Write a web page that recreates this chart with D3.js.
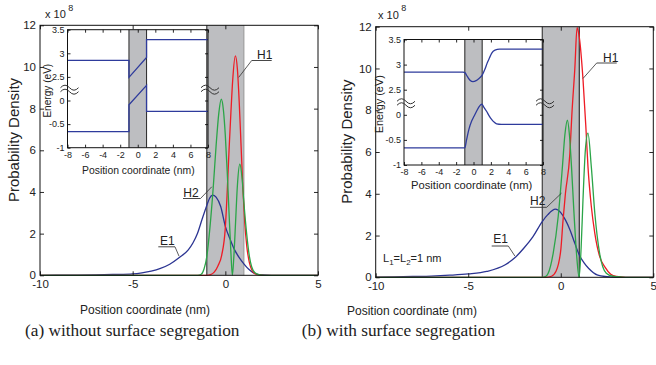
<!DOCTYPE html>
<html><head><meta charset="utf-8">
<script src="https://cdn.jsdelivr.net/npm/d3@7"></script>
<style>
body{margin:0;background:#fff}
svg{display:block}
text{font-family:"Liberation Sans",Arial,Helvetica,sans-serif;fill:#222}
</style>
</head><body>
<svg id="c" width="656" height="365"></svg>
<script>
// ---------------- DATA ----------------
const mainXDomain = [-10, 5];
const mainYDomain = [0, 12];
const mainXTicks = [-10, -5, 0, 5];
const mainYTicks = [0, 2, 4, 6, 8, 10, 12];
const wellRange = [-1, 1];           // shaded barrier region (nm)
const insetXDomain = [-8, 8];
const insetXTicks = [-8, -6, -4, -2, 0, 2, 4, 6, 8];
const insetLowTicks = [-1, -0.5, 0];
const insetHighTicks = [2.5, 3, 3.5];

// Panel (a): without surface segregation — probability density (x 1e8)
const E1_a = [[-10,0],[-8,0.01],[-7,0.02],[-6,0.04],[-5,0.07],[-4.5,0.12],[-4,0.2],[-3.5,0.33],[-3,0.53],[-2.5,0.84],[-2,1.22],[-1.75,1.55],[-1.5,2.02],[-1.25,2.7],[-1,3.35],[-0.85,3.7],[-0.68,3.85],[-0.5,3.75],[-0.25,3.3],[0,2.35],[0.25,1.75],[0.5,1.22],[0.75,0.85],[1,0.55],[1.25,0.3],[1.5,0.13],[1.75,0.05],[2,0.02],[2.5,0],[5,0]];
const H1_a = [[-10,0],[-1,0],[-0.8,0.03],[-0.6,0.15],[-0.4,0.45],[-0.2,0.95],[0,2.3],[0.1,4.0],[0.2,6.0],[0.3,7.8],[0.4,9.4],[0.54,10.53],[0.65,9.9],[0.75,8.3],[0.85,6.2],[0.95,4.1],[1.05,2.5],[1.15,1.45],[1.3,0.6],[1.45,0.22],[1.6,0.08],[1.8,0.02],[2.1,0],[5,0]];
const H2_a = [[-10,0],[-1.5,0],[-1.3,0.05],[-1.15,0.3],[-1,0.9],[-0.83,2.3],[-0.65,4.25],[-0.5,6.2],[-0.35,7.8],[-0.22,8.45],[-0.1,7.9],[0,6.7],[0.1,5.0],[0.2,3.0],[0.3,1.1],[0.38,0],[0.46,0.9],[0.55,2.5],[0.65,4.3],[0.78,5.33],[0.9,4.7],[1.0,3.5],[1.15,2.0],[1.3,0.9],[1.42,0.41],[1.6,0.12],[1.8,0.03],[2.1,0],[5,0]];
// Panel (b): with surface segregation
const E1_b = [[-10,0.01],[-9,0.02],[-8,0.04],[-7,0.06],[-6,0.1],[-5,0.16],[-4,0.28],[-3,0.6],[-2.5,0.92],[-2,1.39],[-1.5,1.95],[-1,2.67],[-0.7,3.0],[-0.29,3.26],[0,3.1],[0.25,2.75],[0.5,2.27],[0.75,1.65],[1,1.07],[1.25,0.7],[1.5,0.43],[2,0.1],[2.5,0.03],[3,0],[5,0]];
const H1_b = [[-10,0],[-0.8,0],[-0.5,0.05],[-0.25,0.3],[0,1.3],[0.12,2.7],[0.25,4.0],[0.49,5.9],[0.6,7.8],[0.76,10.0],[0.88,11.95],[1.0,11.5],[1.2,9.5],[1.35,7.3],[1.47,5.3],[1.65,3.4],[1.84,2.1],[2.1,1.0],[2.38,0.5],[2.7,0.15],[3,0.04],[3.5,0],[5,0]];
const H2_b = [[-10,0],[-1,0],[-0.8,0.05],[-0.68,0.19],[-0.41,1.15],[-0.14,2.9],[0.09,5.3],[0.22,6.8],[0.36,7.52],[0.47,6.8],[0.58,5.3],[0.7,3.3],[0.85,1.15],[0.99,0],[1.1,1.4],[1.2,3.7],[1.33,6.1],[1.47,6.9],[1.65,5.3],[1.84,3.07],[2.1,1.15],[2.46,0.19],[2.8,0.05],[3.3,0.01],[3.6,0],[5,0]];

// Insets: band edges (eV) vs position (nm)
const CB_a = [[-8,2.85],[-1,2.85],[-1,2.49],[1,2.91],[1,3.29],[8,3.29]];
const VB_a = [[-8,-0.66],[-1,-0.66],[-1,-0.09],[1,0.32],[1,-0.23],[8,-0.23]];
const CB_b = [[-8,2.85],[-1.2,2.85],[-1,2.84],[-0.7,2.76],[-0.4,2.69],[-0.06,2.66],[0.3,2.68],[0.6,2.72],[1,2.79],[1.3,2.9],[1.6,3.04],[1.86,3.14],[2.1,3.23],[2.47,3.29],[3,3.31],[8,3.31]];
const VB_b = [[-8,-0.66],[-1,-0.66],[-0.8,-0.5],[-0.53,-0.29],[-0.2,-0.12],[0.06,-0.03],[0.35,0.07],[0.63,0.16],[0.95,0.21],[1.2,0.15],[1.5,0.07],[1.8,-0.02],[2.08,-0.09],[2.4,-0.15],[2.66,-0.18],[3.2,-0.19],[8,-0.19]];

const seriesNames = ["E1", "H1", "H2"];
const captions = ["(a) without surface segregation", "(b) with surface segregation"];
const xTitle = "Position coordinate (nm)";
const yTitle = "Probability Density";
const insetYTitle = "Energy (eV)";

// ---------------- STYLE / LAYOUT ----------------
const COL = {E1:"#2b3492", H1:"#ee1c25", H2:"#2ba548", band:"#2e3b9c", gray:"#bdbec1"};
const svg = d3.select("#c");
const fmt = d => String(d);

const panels = [
  {
    data:{E1:E1_a, H1:H1_a, H2:H2_a}, CB:CB_a, VB:VB_a, smoothBands:false,
    main:{l:40, r:318, t:25.3, b:275.3}, xPad:5,
    inset:{l:67.5, r:208, t:29.7, b:147.7}, insetFont:10.4, insetTitleY:174, insetTitleX:138.3, eTitleX:50.5,
    wellRightCol:"#9a9a9a",
    yTitleX:19, yTitleY:140, xTitleX:145, xTitleY:313.5,
    exp:{x:45, y:18.3},
    caption:{x:25, y:336},
    labels:[
      {name:"H1", tx:257, ty:58.5, ul:[251.7,271.7], uy:60.5, side:"left", to:[0.72,9.5]},
      {name:"H2", tx:183.3, ty:196.7, ul:[183,200.5], uy:198.5, side:"right", to:[-0.73,4.25]},
      {name:"E1", tx:160, ty:245, ul:[158.3,175], uy:246.8, side:"right", to:[-2.5,0.92]}
    ]
  },
  {
    data:{E1:E1_b, H1:H1_b, H2:H2_b}, CB:CB_b, VB:VB_b, smoothBands:true,
    main:{l:375.7, r:653.3, t:26.7, b:277.3}, xPad:4.5,
    inset:{l:404, r:543, t:39.5, b:165}, insetFont:11.2, insetTitleY:189, insetTitleX:471.7, eTitleX:383,
    wellRightCol:"#222",
    yTitleX:352.4, yTitleY:141.7, xTitleX:412, xTitleY:315,
    exp:{x:378, y:18.5},
    caption:{x:301.7, y:336},
    note:{x:383, y:261.5},
    labels:[
      {name:"H1", tx:603, ty:61.5, ul:[596.7,616.7], uy:63, side:"left", to:[1.2,9.52]},
      {name:"H2", tx:530, ty:205, ul:[530,546.7], uy:207.3, side:"right", to:[0.04,4.03]},
      {name:"E1", tx:493.3, ty:243.3, ul:[491.7,508.3], uy:246, side:"right", to:[-2.48,1.02]}
    ]
  }
];

function styleAxis(sel, size) {
  sel.select(".domain").remove();
  sel.selectAll(".tick line").attr("stroke", "#111").attr("stroke-width", 0.9);
  sel.selectAll(".tick text").style("font-size", size + "px").attr("fill", "#222");
}

function tilde(g, cx, cy) {
  [-2, 2].forEach(off => {
    const p = d3.path();
    const x0 = cx - 9, y0 = cy + off;
    p.moveTo(x0, y0);
    p.quadraticCurveTo(x0 + 4.5, y0 - 5, x0 + 9, y0);
    p.quadraticCurveTo(x0 + 13.5, y0 + 5, x0 + 18, y0);
    g.append("path").attr("d", p.toString()).attr("fill", "none").attr("stroke", "#333").attr("stroke-width", 1);
  });
}

panels.forEach(P => {
  const M = P.main;
  const g = svg.append("g");
  const x = d3.scaleLinear().domain(mainXDomain).range([M.l, M.r]);
  const y = d3.scaleLinear().domain(mainYDomain).range([M.b, M.t]);

  // shaded barrier
  g.append("rect").attr("x", x(wellRange[0])).attr("y", M.t)
    .attr("width", x(wellRange[1]) - x(wellRange[0])).attr("height", M.b - M.t)
    .attr("fill", COL.gray);
  g.append("line").attr("x1", x(wellRange[0])).attr("x2", x(wellRange[0])).attr("y1", M.t).attr("y2", M.b)
    .attr("stroke", "#333").attr("stroke-width", 1.1);
  g.append("line").attr("x1", x(wellRange[1])).attr("x2", x(wellRange[1])).attr("y1", M.t).attr("y2", M.b)
    .attr("stroke", P.wellRightCol).attr("stroke-width", 1.1);

  // curves
  const line = d3.line().x(d => x(d[0])).y(d => y(d[1])).curve(d3.curveMonotoneX);
  ["E1", "H1", "H2"].forEach(k => {
    g.append("path").datum(P.data[k]).attr("d", line)
      .attr("fill", "none").attr("stroke", COL[k]).attr("stroke-width", 1.3);
  });

  // axes (inward ticks on all sides)
  const ax = [
    g.append("g").attr("transform", `translate(${M.l},0)`).call(d3.axisLeft(y).tickValues(mainYTicks).tickSize(-4).tickPadding(4).tickFormat(fmt)),
    g.append("g").attr("transform", `translate(${M.r},0)`).call(d3.axisRight(y).tickValues(mainYTicks).tickSize(-4).tickFormat("")),
    g.append("g").attr("transform", `translate(0,${M.b})`).call(d3.axisBottom(x).tickValues(mainXTicks).tickSize(-4).tickPadding(P.xPad).tickFormat(fmt)),
    g.append("g").attr("transform", `translate(0,${M.t})`).call(d3.axisTop(x).tickValues(mainXTicks).tickSize(-4).tickFormat(""))
  ];
  ax.forEach(a => styleAxis(a, 11.5));
  g.append("rect").attr("x", M.l).attr("y", M.t).attr("width", M.r - M.l).attr("height", M.b - M.t)
    .attr("fill", "none").attr("stroke", "#111").attr("stroke-width", 1);

  // titles
  g.append("text").attr("transform", `translate(${P.yTitleX},${P.yTitleY}) rotate(-90)`)
    .attr("text-anchor", "middle").style("font-size", "15px").attr("fill", "#333").text(yTitle);
  g.append("text").attr("x", P.xTitleX).attr("y", P.xTitleY).attr("text-anchor", "middle")
    .style("font-size", "12px").attr("fill", "#333").text(xTitle);
  const ex = g.append("text").attr("x", P.exp.x).attr("y", P.exp.y).style("font-size", "11px").attr("fill", "#222");
  ex.append("tspan").text("x 10");
  ex.append("tspan").attr("dx", 2.5).attr("dy", -7.5).style("font-size", "9px").text("8");

  // annotations
  P.labels.forEach(L => {
    g.append("text").attr("x", L.tx).attr("y", L.ty).style("font-size", "12px").attr("fill", "#333").text(L.name);
    g.append("line").attr("x1", L.ul[0]).attr("x2", L.ul[1]).attr("y1", L.uy).attr("y2", L.uy)
      .attr("stroke", "#333").attr("stroke-width", 0.9);
    const sx = L.side === "left" ? L.ul[0] : L.ul[1];
    g.append("line").attr("x1", sx).attr("y1", L.uy).attr("x2", x(L.to[0])).attr("y2", y(L.to[1]))
      .attr("stroke", "#333").attr("stroke-width", 0.8);
  });

  if (P.note) {
    const t = g.append("text").attr("x", P.note.x).attr("y", P.note.y).style("font-size", "11px").attr("fill", "#222");
    t.append("tspan").text("L");
    t.append("tspan").attr("dy", 3).style("font-size", "8px").text("1");
    t.append("tspan").attr("dy", -3).text("=L");
    t.append("tspan").attr("dy", 3).style("font-size", "8px").text("2");
    t.append("tspan").attr("dy", -3).text("=1 nm");
  }

  // ---------- inset ----------
  const I = P.inset;
  const gi = svg.append("g");
  const xi = d3.scaleLinear().domain(insetXDomain).range([I.l, I.r]);
  const u = (I.b - I.t) / 2.5;
  const yLow = d3.scaleLinear().domain([-1, 0.5]).range([I.b, I.b - 1.5 * u]);
  const yHigh = d3.scaleLinear().domain([2.5, 3.5]).range([I.b - 1.5 * u, I.t]);

  gi.append("rect").attr("x", xi(wellRange[0])).attr("y", I.t)
    .attr("width", xi(wellRange[1]) - xi(wellRange[0])).attr("height", I.b - I.t).attr("fill", COL.gray);
  wellRange.forEach(w => gi.append("line").attr("x1", xi(w)).attr("x2", xi(w)).attr("y1", I.t).attr("y2", I.b)
    .attr("stroke", "#333").attr("stroke-width", 1.1));

  const cv = P.smoothBands ? d3.curveMonotoneX : d3.curveLinear;
  gi.append("path").datum(P.CB).attr("d", d3.line().x(d => xi(d[0])).y(d => yHigh(d[1])).curve(cv))
    .attr("fill", "none").attr("stroke", COL.band).attr("stroke-width", 1.3);
  gi.append("path").datum(P.VB).attr("d", d3.line().x(d => xi(d[0])).y(d => yLow(d[1])).curve(cv))
    .attr("fill", "none").attr("stroke", COL.band).attr("stroke-width", 1.3);

  const iax = [
    gi.append("g").attr("transform", `translate(${I.l},0)`).call(d3.axisLeft(yLow).tickValues(insetLowTicks).tickSize(-3).tickPadding(3).tickFormat(fmt)),
    gi.append("g").attr("transform", `translate(${I.l},0)`).call(d3.axisLeft(yHigh).tickValues(insetHighTicks).tickSize(-3).tickPadding(3).tickFormat(fmt)),
    gi.append("g").attr("transform", `translate(${I.r},0)`).call(d3.axisRight(yLow).tickValues(insetLowTicks).tickSize(-3).tickFormat("")),
    gi.append("g").attr("transform", `translate(${I.r},0)`).call(d3.axisRight(yHigh).tickValues(insetHighTicks).tickSize(-3).tickFormat("")),
    gi.append("g").attr("transform", `translate(0,${I.b})`).call(d3.axisBottom(xi).tickValues(insetXTicks).tickSize(-3).tickPadding(4).tickFormat(fmt)),
    gi.append("g").attr("transform", `translate(0,${I.t})`).call(d3.axisTop(xi).tickValues(insetXTicks).tickSize(-3).tickFormat(""))
  ];
  iax.forEach(a => styleAxis(a, 9));
  gi.append("rect").attr("x", I.l).attr("y", I.t).attr("width", I.r - I.l).attr("height", I.b - I.t)
    .attr("fill", "none").attr("stroke", "#111").attr("stroke-width", 1);

  const by = yLow(0.25) + 1;
  tilde(gi, I.l + 2, by);
  tilde(gi, I.r + 2, by);

  gi.append("text").attr("x", P.insetTitleX).attr("y", P.insetTitleY).attr("text-anchor", "middle")
    .style("font-size", P.insetFont + "px").attr("fill", "#444").text(xTitle);
  gi.append("text").attr("transform", `translate(${P.eTitleX},${(I.t + I.b) / 2 + 2}) rotate(-90)`)
    .attr("text-anchor", "middle").style("font-size", (P.insetFont - 0.3) + "px").attr("fill", "#444").text(insetYTitle);
});

// captions
panels.forEach((P, i) => {
  svg.append("text").attr("x", P.caption.x).attr("y", P.caption.y)
    .style("font-family", '"Liberation Serif","Times New Roman",serif').style("font-size", "17.3px")
    .attr("fill", "#111").text(captions[i]);
});
</script>
</body></html>
